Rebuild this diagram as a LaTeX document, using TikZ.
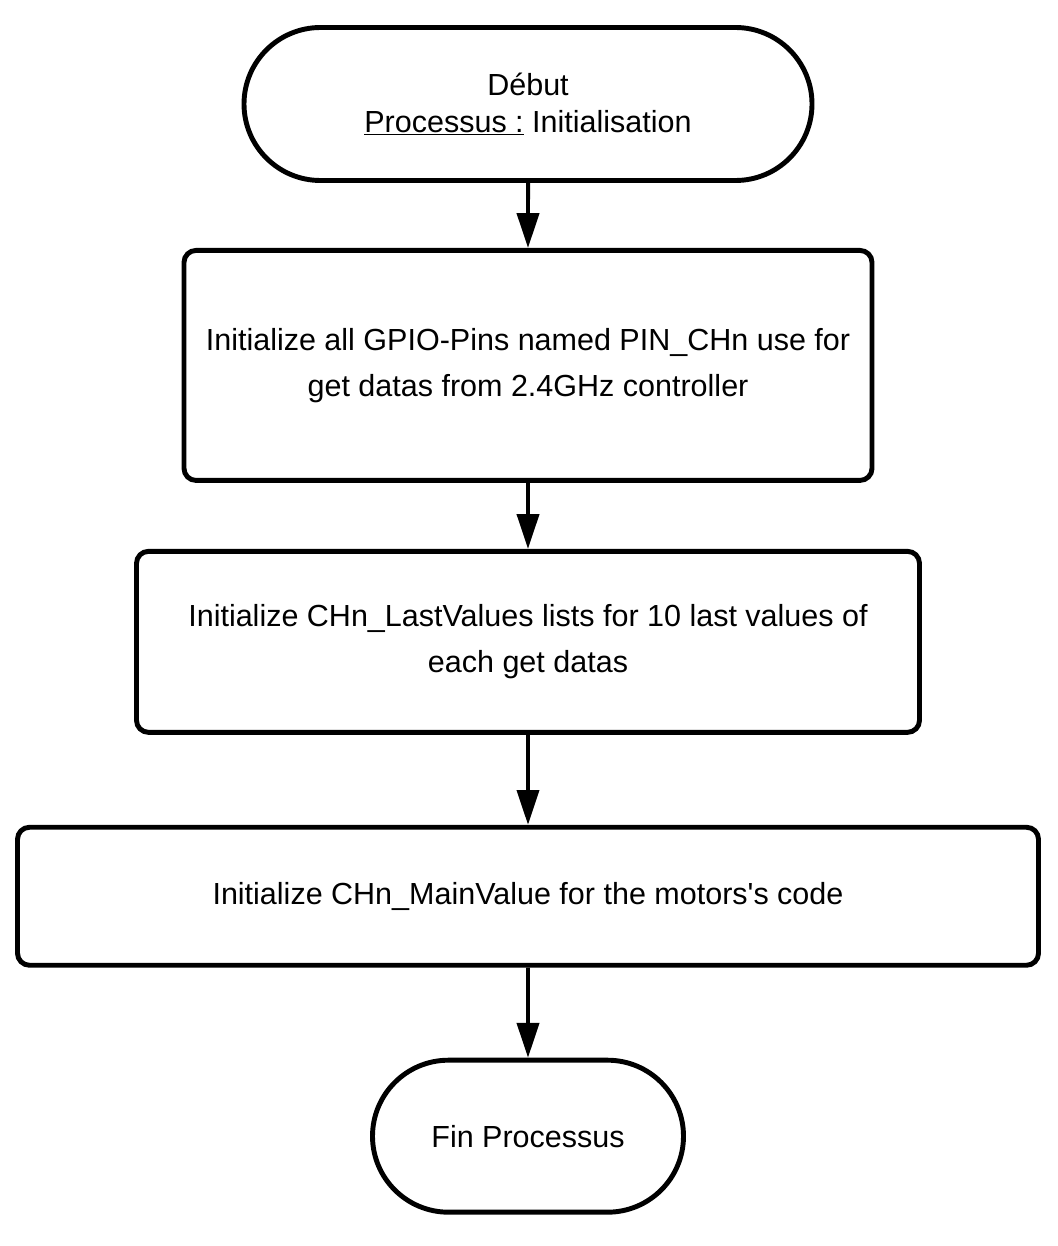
\documentclass[tikz,border=0pt]{standalone}
\usepackage{fontspec}
\setmainfont{Liberation Sans}
\usepackage{tikz}
\usetikzlibrary{shapes.misc, arrows.meta, positioning}

\begin{document}
\begin{tikzpicture}[
  term/.style={rounded rectangle, draw=black, line width=3.5pt, fill=white, align=center, inner sep=0pt, font=\fontsize{21.7}{26.3}\selectfont},
  box/.style={rectangle, rounded corners=0.3cm, draw=black, line width=3.5pt, fill=white, align=center, inner sep=0pt, font=\fontsize{21.7}{32.7}\selectfont},
  arr/.style={-{Triangle[length=0.87cm, width=0.55cm]}, line width=2.8pt}
]
\useasboundingbox (0,0) rectangle (26.45,-31.15);
\node[term, minimum width=14.2cm, minimum height=3.825cm] (debut) at (13.2,-2.6) {Début\\\underline{Processus :} Initialisation};
\node[box, minimum width=17.2cm, minimum height=5.75cm, below=1.625cm of debut] (gpio) {Initialize all GPIO-Pins named PIN\_CHn use for\\get datas from 2.4GHz controller};
\node[box, minimum width=19.575cm, minimum height=4.525cm, below=1.65cm of gpio] (last) {Initialize CHn\_LastValues lists for 10 last values of\\each get datas};
\node[box, minimum width=25.525cm, minimum height=3.45cm, below=2.25cm of last] (main) {Initialize CHn\_MainValue for the motors\textquotesingle s code};
\node[term, minimum width=7.775cm, minimum height=3.8cm, below=2.25cm of main] (fin) {Fin Processus};
% Arrows
\draw[arr] (debut) -- (gpio);
\draw[arr] (gpio) -- (last);
\draw[arr] (last) -- (main);
\draw[arr] (main) -- (fin);
\end{tikzpicture}
\end{document}
